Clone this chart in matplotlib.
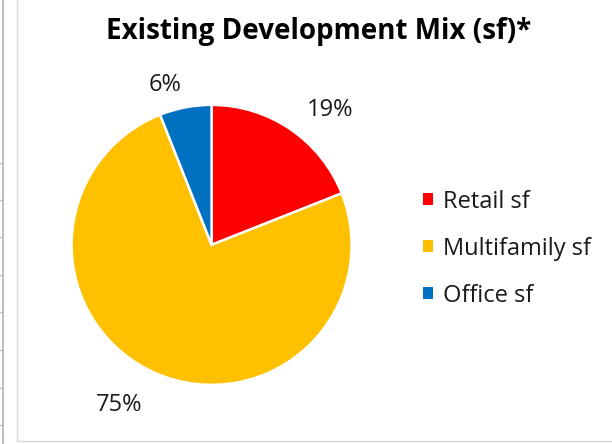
import numpy as np
import matplotlib.pyplot as plt
from matplotlib.lines import Line2D
from matplotlib.patches import Rectangle

plt.rcParams['font.family'] = ['Open Sans', 'DejaVu Sans']

# data
categories = ["Retail sf", "Multifamily sf", "Office sf"]
shares = [19, 75, 6]
colors = ["#FF0000", "#FFC000", "#0070C0"]
title = "Existing Development Mix (sf)*"

# where the percentage labels sit (angle offset from wedge middle in deg, radius)
label_place = [(-6.3, 1.30), (-7.0, 1.30), (5.0, 1.21)]

fig = plt.figure(figsize=(6.12, 4.44), dpi=100)

# chart area border and the sheet grid edge on the left
fig.add_artist(Rectangle((17 / 612, 3 / 444), 1.0, 1.0, transform=fig.transFigure,
                         fill=False, edgecolor="#D9D9D9", linewidth=1.0))
fig.add_artist(Line2D([3 / 612, 3 / 612], [0, 1], transform=fig.transFigure,
                      color="#BFBFBF", linewidth=1.5))
for yp in [163, 200, 237, 275, 312, 350, 388, 425]:
    fig.add_artist(Line2D([0, 3 / 612], [1 - yp / 444] * 2, transform=fig.transFigure,
                          color="#BFBFBF", linewidth=1.0))

ax = fig.add_axes([0.117, 0.133, 0.4575, 0.631])
wedges, texts, autotexts = ax.pie(
    shares, colors=colors, startangle=90, counterclock=False,
    autopct=lambda p: f"{p:.0f}%", pctdistance=1.25,
    wedgeprops=dict(edgecolor="white", linewidth=1.8),
    textprops=dict(fontsize=17, color="#1A1A1A"))
for w, t, (da, r) in zip(wedges, autotexts, label_place):
    mid = np.deg2rad((w.theta1 + w.theta2) / 2 + da)
    t.set_position((r * np.cos(mid), r * np.sin(mid) - 0.025))
ax.set_xlim(-1, 1)
ax.set_ylim(-1, 1)
ax.set_aspect("equal")

fig.text(0.521, 0.93, title, ha="center", va="center", fontsize=20,
         fontweight="bold", color="black")

handles = [Rectangle((0, 0), 1, 1, facecolor=c) for c in colors]
fig.legend(handles, categories, loc="center left", bbox_to_anchor=(0.691, 0.44),
           frameon=False, fontsize=17, handlelength=0.42, handleheight=0.42,
           handletextpad=0.42, labelspacing=0.97, borderaxespad=0, borderpad=0,
           labelcolor="#1A1A1A")

fig.savefig("out.png", dpi=100)
